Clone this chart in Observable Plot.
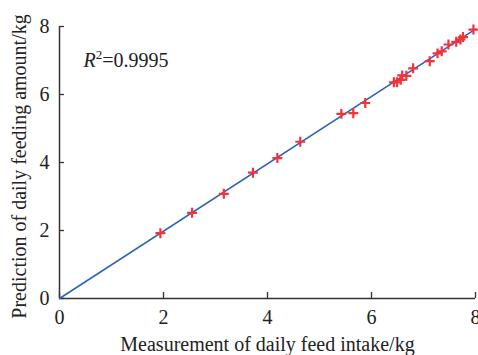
<!DOCTYPE html>
<html>
<head>
<meta charset="utf-8">
<script src="https://cdn.jsdelivr.net/npm/d3@7"></script>
<script src="https://cdn.jsdelivr.net/npm/@observablehq/plot@0.6"></script>
<style>
  html, body { margin: 0; padding: 0; background: #fff; }
  #chart svg { display: block; }
</style>
</head>
<body>
<div id="chart"></div>
<script>
// Measured daily feed intake (kg) and predicted feeding amount (kg)
const measured  = [1.94, 2.55, 3.16, 3.72, 4.19, 4.63, 5.42, 5.65, 5.88, 6.43, 6.49, 6.56, 6.59, 6.67, 6.80, 7.12, 7.27, 7.35, 7.48, 7.63, 7.71, 7.76, 7.96];
const predicted = [1.92, 2.52, 3.08, 3.70, 4.13, 4.61, 5.43, 5.45, 5.75, 6.36, 6.36, 6.43, 6.56, 6.55, 6.77, 6.98, 7.21, 7.27, 7.47, 7.55, 7.62, 7.69, 7.91];
// fitted line end points
const fitX = [0, 8];
const fitY = [0, 7.92];
const xTicks = [0, 2, 4, 6, 8];
const yTicks = [0, 2, 4, 6, 8];
const xLabel = "Measurement of daily feed intake/kg";
const yLabel = "Prediction of daily feeding amount/kg";
const r2Text = "R2=0.9995";
const r2Pos = [0.46, 7.0];

const points = measured.map((x, i) => ({x, y: predicted[i]}));
const fit = fitX.map((x, i) => ({x, y: fitY[i]}));

const chart = Plot.plot({
  width: 478,
  height: 355,
  marginLeft: 59,
  marginRight: 3,
  marginTop: 26,
  marginBottom: 57,
  x: {domain: [0, 8]},
  y: {domain: [0, 8]},
  style: {fontFamily: "'Liberation Serif', 'Times New Roman', serif", fontSize: "20px", color: "#222", background: "#fff"},
  marks: [
    Plot.axisX(xTicks, {tickSize: -6, tickPadding: 17, label: null, stroke: "#333", strokeWidth: 1.3}),
    Plot.axisY(yTicks, {tickSize: -5, tickPadding: 15, label: null, stroke: "#333", strokeWidth: 1.3}),
    Plot.ruleY([0], {stroke: "#333", strokeWidth: 1.5}),
    Plot.ruleX([0], {stroke: "#333", strokeWidth: 1.5}),
    Plot.line(fit, {x: "x", y: "y", stroke: "#2e62b4", strokeWidth: 1.5}),
    Plot.dot(points, {x: "x", y: "y", symbol: "plus", r: 3.3, stroke: "#f2333a", strokeWidth: 2.2}),
    Plot.text([r2Text], {x: () => r2Pos[0], y: () => r2Pos[1], text: d => d, textAnchor: "start", fill: "#222", className: "r2"}),
    Plot.text([xLabel], {frameAnchor: "bottom", dy: 46.5, lineAnchor: "middle", textAnchor: "middle", text: d => d, fill: "#222"}),
    Plot.text([yLabel], {frameAnchor: "left", dx: -40, dy: 4, rotate: -90, textAnchor: "middle", lineAnchor: "middle", text: d => d, fill: "#222"})
  ]
});

document.getElementById("chart").appendChild(chart);

// Format R² with italic R and superscript 2
const r2 = chart.querySelector(".r2 text");
if (r2) {
  const ns = "http://www.w3.org/2000/svg";
  r2.textContent = "";
  const t1 = document.createElementNS(ns, "tspan");
  t1.setAttribute("font-style", "italic");
  t1.textContent = r2Text.slice(0, 1);
  const t2 = document.createElementNS(ns, "tspan");
  t2.setAttribute("font-size", "13px");
  t2.setAttribute("dy", "-8");
  t2.textContent = r2Text.slice(1, 2);
  const t3 = document.createElementNS(ns, "tspan");
  t3.setAttribute("dy", "8");
  t3.textContent = r2Text.slice(2);
  r2.append(t1, t2, t3);
}
</script>
</body>
</html>
